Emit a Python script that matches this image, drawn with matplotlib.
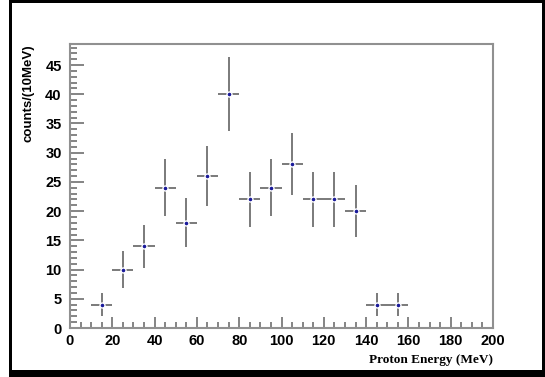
import matplotlib
matplotlib.use("Agg")
import matplotlib.pyplot as plt
from matplotlib.patches import Rectangle
from matplotlib.ticker import MultipleLocator

# bin centres (MeV), counts per 10 MeV and their error bars
energy = [15, 25, 35, 45, 55, 65, 75, 85, 95, 105, 115, 125, 135, 145, 155]
counts = [4, 10, 14, 24, 18, 26, 40, 22, 24, 28, 22, 22, 20, 4, 4]
count_err = [2.0, 3.2, 3.7, 4.9, 4.2, 5.1, 6.3, 4.7, 4.9, 5.3, 4.7, 4.7, 4.5, 2.0, 2.0]
bin_half = [5] * len(energy)

W, H = 545, 377
fig = plt.figure(figsize=(W / 100, H / 100), dpi=100)
ax = fig.add_axes([70 / W, 1 - 328 / H, (493 - 70) / W, (328 - 44) / H])

ax.errorbar(energy, counts, yerr=count_err, xerr=bin_half, fmt='o', ms=3.6,
            mfc='#1a1a9a', mec='white', mew=1.0,
            ecolor='#7a7a7a', elinewidth=1.4, capsize=0)

ax.set_xlim(0, 200)
ax.set_ylim(0, 48.6)
ax.xaxis.set_major_locator(MultipleLocator(20))
ax.xaxis.set_minor_locator(MultipleLocator(5))
ax.yaxis.set_major_locator(MultipleLocator(5))
ax.yaxis.set_minor_locator(MultipleLocator(1))

for s in ax.spines.values():
    s.set_color('#909090')
    s.set_linewidth(1.5)

ax.tick_params(which='both', direction='in', colors='#707070', width=1.2,
               labelcolor='black', top=False, right=False)
ax.tick_params(axis='y', which='major', length=10, pad=6)
ax.tick_params(axis='y', which='minor', length=5)
ax.tick_params(axis='x', which='major', length=8, pad=4)
ax.tick_params(axis='x', which='minor', length=4)
for lab in ax.get_xticklabels() + ax.get_yticklabels():
    lab.set_fontfamily('Liberation Sans')
    lab.set_fontweight('bold')
    lab.set_fontsize(10.5)

ax.set_ylabel('counts/(10MeV)', fontfamily='Liberation Sans', fontweight='bold',
              fontsize=9.5, loc='top', labelpad=8)
ax.set_xlabel('Proton Energy (MeV)', fontfamily='Liberation Serif', fontweight='bold',
              fontsize=9.5, loc='right', labelpad=5)

# black frame around the whole picture
def px_rect(x0, y0, x1, y1):
    fig.patches.append(Rectangle((x0 / W, 1 - y1 / H), (x1 - x0) / W, (y1 - y0) / H,
                                 transform=fig.transFigure, color='black', lw=0))

px_rect(9, 0, 12, 377)
px_rect(9, 0, 545, 3)
px_rect(542, 0, 545, 377)
px_rect(9, 370, 545, 377)

fig.savefig("out.png", dpi=100)
